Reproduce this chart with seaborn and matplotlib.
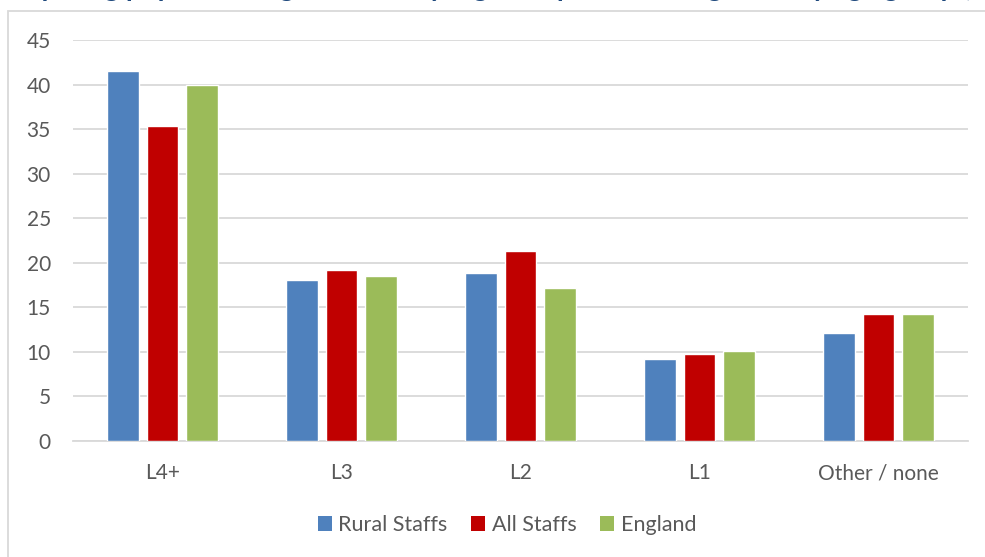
import matplotlib
matplotlib.use("Agg")
import matplotlib.pyplot as plt
import seaborn as sns
import pandas as pd
from matplotlib.patches import Rectangle, Patch

categories = ["L4+", "L3", "L2", "L1", "Other / none"]
series_names = ["Rural Staffs", "All Staffs", "England"]
rural_staffs = [41.5, 18.1, 18.8, 9.2, 12.1]
all_staffs = [35.4, 19.2, 21.3, 9.8, 14.2]
england = [39.9, 18.5, 17.2, 10.1, 14.2]
yticks = [0, 5, 10, 15, 20, 25, 30, 35, 40, 45]
colors = ["#4F81BD", "#C00000", "#9BBB59"]

rows = []
for name, vals in zip(series_names, [rural_staffs, all_staffs, england]):
    for c, v in zip(categories, vals):
        rows.append({"Qualification": c, "Series": name, "Value": v})
df = pd.DataFrame(rows)

sns.set_theme(style="white")
plt.rcParams["font.family"] = ["Lato", "DejaVu Sans"]

fig = plt.figure(figsize=(9.85, 5.57), dpi=100)
ax = fig.add_axes([73/985, 1-441/557, (968-73)/985, (441-40)/557])

sns.barplot(data=df, x="Qualification", y="Value", hue="Series",
            order=categories, hue_order=series_names, palette=colors,
            width=0.66, gap=0.2, ax=ax, legend=False, errorbar=None,
            saturation=1, zorder=3)

ax.set_ylim(0, 45)
ax.set_xlim(-0.5, len(categories) - 0.5)
ax.set_yticks(yticks)
ax.set_yticklabels([str(t) for t in yticks])
ax.yaxis.grid(True, color="#D9D9D9", linewidth=1.3, zorder=0)
ax.set_axisbelow(True)
for s in ["top", "right", "left"]:
    ax.spines[s].set_visible(False)
ax.spines["bottom"].set_color("#D9D9D9")
ax.spines["bottom"].set_linewidth(1.3)
ax.set_xlabel("")
ax.set_ylabel("")
ax.tick_params(axis="both", length=0, labelsize=15, labelcolor="#595959")
ax.tick_params(axis="x", pad=16)
ax.tick_params(axis="y", pad=16)

handles = [Patch(facecolor=c, edgecolor="none") for c in colors]
fig.legend(handles, series_names, loc="center", bbox_to_anchor=(507/985, 1-525/557),
           ncol=3, frameon=False, fontsize=15.5, labelcolor="#595959",
           handlelength=0.65, handleheight=0.65, handletextpad=0.3, columnspacing=1.1)

# chart border
fig.patches.append(Rectangle((8/985, -0.01), 1.0, 1-11/557+0.01, transform=fig.transFigure,
                             fill=False, edgecolor="#D9D9D9", linewidth=1.3))

# title, cut off at the top edge as in the reference (only descenders show)
fig.text(0.5, 1+4/557, "Comparing population aged 16-64 by highest qualification gained by age group (%)",
         ha="center", va="baseline", fontsize=20, fontweight="bold", color="#1F497D")

fig.savefig("out.png", dpi=100)
